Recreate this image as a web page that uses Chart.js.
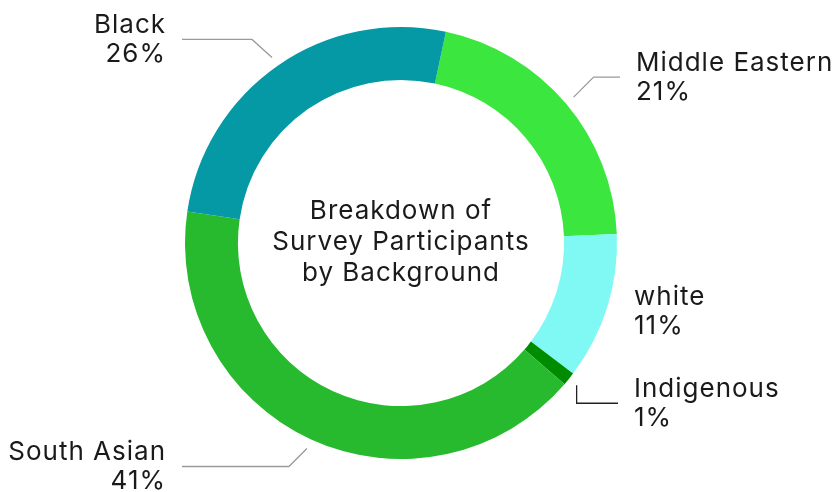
<!DOCTYPE html>
<html>
<head>
<meta charset="utf-8">
<script src="https://cdn.jsdelivr.net/npm/chart.js@4"></script>
<style>
  html, body { margin: 0; padding: 0; background: #fff; }
  #wrap { width: 833px; height: 492px; position: relative; }
</style>
</head>
<body>
<div id="wrap"><canvas id="backgroundChart"></canvas></div>
<script>
const categories = ["Middle Eastern", "white", "Indigenous", "South Asian", "Black"]
const shares = [21, 11, 1, 41, 26]
const sliceColors = ["#3be63e", "#80f8f4", "#008c00", "#27ba2e", "#0599a6"]
const centerTitle = ["Breakdown of", "Survey Participants", "by Background"]

// leader line shape per slice: diagonal/vertical step from the ring, then a horizontal run to endX
const leaders = [
  { dx: 20, dy: -20, endX: 620, color: "#9a9a9a" },
  { none: true, labelX: 634, labelY: 311 },
  { dx: 0, dy: 18, endX: 618, color: "#222" },
  { dx: -18, dy: 18, endX: 182, color: "#9a9a9a" },
  { dx: -20, dy: -18, endX: 182, color: "#9a9a9a" }
]

const FONT = "Inter, 'Noto Sans', sans-serif"

function setTextStyle(ctx) {
  ctx.font = `400 26px ${FONT}`
  ctx.letterSpacing = "1px"
  ctx.fillStyle = "#1a1a1a"
  ctx.textBaseline = "middle"
}

const centerText = {
  id: "centerText",
  afterDraw(chart) {
    const arc = chart.getDatasetMeta(0).data[0]
    const { ctx } = chart
    ctx.save()
    setTextStyle(ctx)
    ctx.textAlign = "center"
    centerTitle.forEach((line, i) => {
      ctx.fillText(line, arc.x, arc.y - 32 + i * 31)
    })
    ctx.restore()
  }
}

const sliceLabels = {
  id: "sliceLabels",
  afterDraw(chart) {
    const { ctx } = chart
    const meta = chart.getDatasetMeta(0)
    ctx.save()
    meta.data.forEach((arc, i) => {
      const p = arc.getProps(["x", "y", "startAngle", "endAngle", "outerRadius"], true)
      const mid = (p.startAngle + p.endAngle) / 2
      const r = p.outerRadius + 10
      const sx = p.x + Math.cos(mid) * r
      const sy = p.y + Math.sin(mid) * r
      const l = leaders[i]
      let labelX, labelY, align
      if (l.none) {
        labelX = l.labelX
        labelY = l.labelY
        align = "left"
      } else {
        const ex = sx + l.dx
        const ey = sy + l.dy
        ctx.strokeStyle = l.color
        ctx.lineWidth = 1.3
        ctx.beginPath()
        ctx.moveTo(sx, sy)
        ctx.lineTo(ex, ey)
        ctx.lineTo(l.endX, ey)
        ctx.stroke()
        const right = l.endX > ex
        labelX = right ? l.endX + 16 : l.endX - 16
        labelY = ey
        align = right ? "left" : "right"
      }
      setTextStyle(ctx)
      ctx.textAlign = align
      ctx.fillText(categories[i], labelX, labelY - 14)
      ctx.fillText(shares[i] + "%", labelX, labelY + 15)
    })
    ctx.restore()
  }
}

new Chart(document.getElementById("backgroundChart"), {
  type: "doughnut",
  data: {
    labels: categories,
    datasets: [{
      data: shares,
      backgroundColor: sliceColors,
      borderWidth: 0
    }]
  },
  options: {
    responsive: true,
    maintainAspectRatio: false,
    animation: false,
    rotation: 12,
    cutout: "75.5%",
    layout: {
      padding: { left: 0, right: 31, top: 27, bottom: 33 }
    },
    plugins: {
      legend: { display: false },
      tooltip: { enabled: false }
    }
  },
  plugins: [centerText, sliceLabels]
})
</script>
</body>
</html>
